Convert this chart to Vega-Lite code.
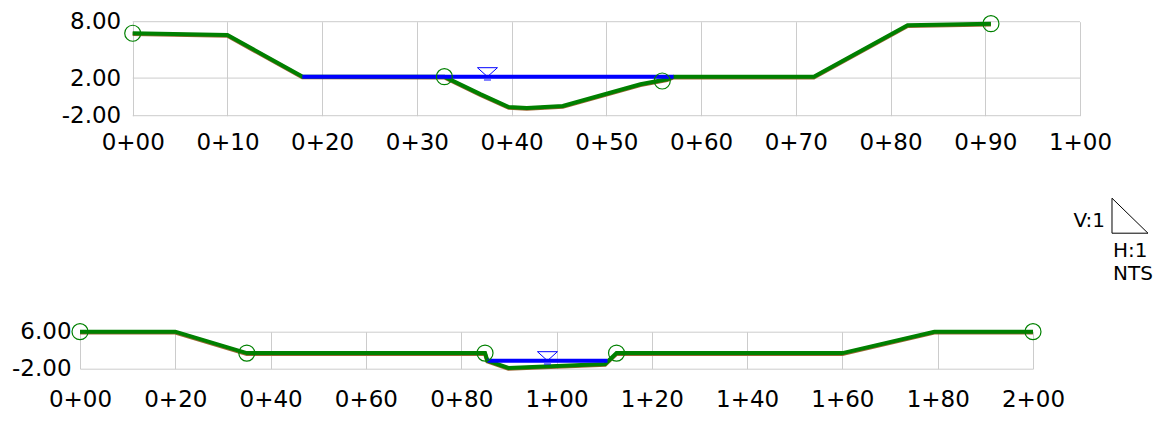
{
  "$schema": "https://vega.github.io/schema/vega-lite/v6.json",
  "background": "white",
  "padding": {"left": 11, "top": 10.7, "right": 5, "bottom": 5},
  "config": {
    "font": "DejaVu Sans",
    "view": {"stroke": null},
    "axis": {
      "grid": true,
      "gridColor": "#cccccc",
      "gridWidth": 1,
      "domain": false,
      "ticks": false,
      "title": null,
      "labelFont": "DejaVu Sans",
      "labelFontSize": 23,
      "labelColor": "#000000",
      "labelOverlap": false,
      "labelFlush": false
    }
  },
  "datasets": {
    "topGround": [
      {"sta": 0, "elev": 6.77}, {"sta": 10, "elev": 6.59}, {"sta": 17.9, "elev": 2.17},
      {"sta": 32.9, "elev": 2.15}, {"sta": 36.7, "elev": 0.3}, {"sta": 39.7, "elev": -1.07},
      {"sta": 41.6, "elev": -1.18}, {"sta": 45.4, "elev": -0.97}, {"sta": 53.6, "elev": 1.34},
      {"sta": 56.4, "elev": 1.87}, {"sta": 57.1, "elev": 2.15}, {"sta": 71.9, "elev": 2.15},
      {"sta": 81.8, "elev": 7.62}, {"sta": 90.6, "elev": 7.79}
    ],
    "topGrid": [{"sta": 0, "sta2": 100, "elev": -2}, {"sta": 0, "sta2": 100, "elev": 2}, {"sta": 0, "sta2": 100, "elev": 8}],
    "topWater": [{"sta": 17.9, "elev": 2.15}, {"sta": 57.1, "elev": 2.15}],
    "topPts": [{"sta": 0, "elev": 6.77}, {"sta": 32.9, "elev": 2.15}, {"sta": 55.9, "elev": 1.69}, {"sta": 90.6, "elev": 7.79}],
    "topSym": [{"sta": 37.45, "elev": 2.15}],
    "botGround": [
      {"sta": 0, "elev": 6}, {"sta": 20, "elev": 6}, {"sta": 35, "elev": 1.37},
      {"sta": 85, "elev": 1.37}, {"sta": 85.5, "elev": -0.27}, {"sta": 89.9, "elev": -1.85},
      {"sta": 110.2, "elev": -0.99}, {"sta": 112.6, "elev": 1.37}, {"sta": 160, "elev": 1.37},
      {"sta": 179.3, "elev": 6}, {"sta": 200, "elev": 6}
    ],
    "botWater": [{"sta": 85.5, "elev": -0.27}, {"sta": 110.7, "elev": -0.27}],
    "botPts": [{"sta": 0, "elev": 6}, {"sta": 35, "elev": 1.37}, {"sta": 85, "elev": 1.37}, {"sta": 112.6, "elev": 1.37}, {"sta": 200, "elev": 6}],
    "botSym": [{"sta": 98.1, "elev": -0.27}],
    "legendTri": [{"i": 0, "x": 0, "y": 1}, {"i": 1, "x": 0, "y": 0}, {"i": 2, "x": 1, "y": 0}, {"i": 3, "x": 0, "y": 1}],
    "legendLeft": [{"x": 0, "y": 0.35, "label": "V:1"}],
    "legendRight": [{"x": 0, "y": -0.5, "label": "H:1"}, {"x": 0, "y": -1.17, "label": "NTS"}]
  },
  "bounds": "flush",
  "spacing": 82.5,
  "vconcat": [
    {
      "width": 1000,
      "height": 94,
      "encoding": {
        "x": {
          "field": "sta", "type": "quantitative",
          "scale": {"domain": [-5.563, 100], "nice": false, "zero": false},
          "axis": {
            "values": [0, 10, 20, 30, 40, 50, 60, 70, 80, 90, 100],
            "labelPadding": 16,
            "labelExpr": "floor(datum.value/100) + '+' + (datum.value % 100 < 10 ? '0' : '') + (datum.value % 100)"
          }
        },
        "y": {
          "field": "elev", "type": "quantitative",
          "scale": {"domain": [-2, 8], "nice": false, "zero": false},
          "axis": {
            "values": [-2, 2, 8],
            "grid": false,
            "offset": -52.7,
            "labelPadding": 12,
            "labelExpr": "(datum.value < 0 ? '-' : '') + format(abs(datum.value), '.2f')"
          }
        }
      },
      "layer": [
        {"data": {"name": "topGrid"}, "mark": {"type": "rule", "color": "#cccccc", "strokeWidth": 1}, "encoding": {"x2": {"field": "sta2"}}},
        {"data": {"name": "topGround"}, "mark": {"type": "line", "color": "#996633", "strokeWidth": 4, "yOffset": 0.8}},
        {"data": {"name": "topGround"}, "mark": {"type": "line", "color": "#008000", "strokeWidth": 4}},
        {"data": {"name": "topWater"}, "mark": {"type": "line", "color": "#0000ff", "strokeWidth": 4}},
        {"data": {"name": "topSym"}, "mark": {"type": "point", "shape": "M-1,-0.9L1,-0.9L0,0Z M-0.35,0.33L0.35,0.33", "size": 400, "filled": false, "stroke": "#0000ff", "strokeWidth": 1, "opacity": 1}},
        {"data": {"name": "topPts"}, "mark": {"type": "point", "shape": "circle", "size": 256, "filled": false, "stroke": "#008000", "strokeWidth": 1.2, "opacity": 1}}
      ]
    },
    {
      "width": 1068,
      "height": 51,
      "encoding": {
        "x": {"field": "x", "type": "quantitative", "scale": {"domain": [-28.67, 1], "nice": false, "zero": false}, "axis": null},
        "y": {"field": "y", "type": "quantitative", "scale": {"domain": [-0.457, 1], "nice": false, "zero": false}, "axis": null}
      },
      "layer": [
        {"data": {"name": "legendTri"}, "mark": {"type": "line", "color": "#000000", "strokeWidth": 1}, "encoding": {"order": {"field": "i"}}},
        {"data": {"name": "legendLeft"}, "mark": {"type": "text", "fontSize": 20, "align": "right", "baseline": "middle", "dx": -7, "color": "#000000"}, "encoding": {"text": {"field": "label"}}},
        {"data": {"name": "legendRight"}, "mark": {"type": "text", "fontSize": 20, "align": "left", "baseline": "middle", "dx": 1, "color": "#000000"}, "encoding": {"text": {"field": "label"}}}
      ]
    },
    {
      "width": 953,
      "height": 37,
      "encoding": {
        "x": {
          "field": "sta", "type": "quantitative",
          "scale": {"domain": [0, 200], "nice": false, "zero": false},
          "axis": {
            "values": [0, 20, 40, 60, 80, 100, 120, 140, 160, 180, 200],
            "labelPadding": 20,
            "labelExpr": "floor(datum.value/100) + '+' + (datum.value % 100 < 10 ? '0' : '') + (datum.value % 100)"
          }
        },
        "y": {
          "field": "elev", "type": "quantitative",
          "scale": {"domain": [-2, 6], "nice": false, "zero": false},
          "axis": {
            "values": [-2, 6],
            "labelPadding": 9,
            "labelExpr": "(datum.value < 0 ? '-' : '') + format(abs(datum.value), '.2f')"
          }
        }
      },
      "layer": [
        {"data": {"name": "botGround"}, "mark": {"type": "line", "color": "#996633", "strokeWidth": 4, "yOffset": 0.8}},
        {"data": {"name": "botGround"}, "mark": {"type": "line", "color": "#008000", "strokeWidth": 4}},
        {"data": {"name": "botWater"}, "mark": {"type": "line", "color": "#0000ff", "strokeWidth": 4}},
        {"data": {"name": "botSym"}, "mark": {"type": "point", "shape": "M-1,-0.9L1,-0.9L0,0Z M-0.35,0.33L0.35,0.33", "size": 400, "filled": false, "stroke": "#0000ff", "strokeWidth": 1, "opacity": 1}},
        {"data": {"name": "botPts"}, "mark": {"type": "point", "shape": "circle", "size": 256, "filled": false, "stroke": "#008000", "strokeWidth": 1.2, "opacity": 1}}
      ]
    }
  ]
}
